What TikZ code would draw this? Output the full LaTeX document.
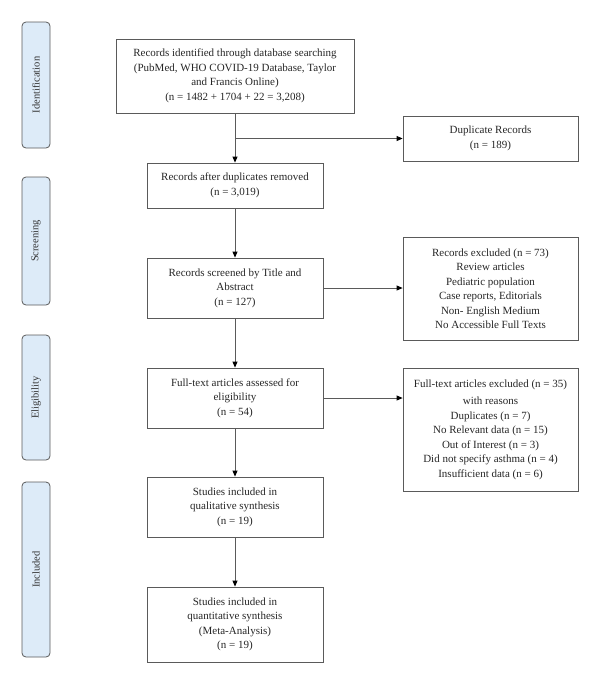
\documentclass[tikz,border=0pt]{standalone}
\usepackage{fontspec}
\setmainfont{Liberation Serif}
\usetikzlibrary{arrows.meta,positioning}
\definecolor{linegray}{HTML}{5A5A5A}
\definecolor{barblue}{HTML}{DDEBF8}
\tikzset{
  box/.style={draw=linegray, line width=0.8pt, align=center, inner sep=2pt,
    font=\fontsize{11}{14.5}\selectfont, text=black!85},
  bar/.style={draw=linegray, line width=0.8pt, fill=barblue, rounded corners=4pt,
    minimum width=28pt, rotate=90, font=\fontsize{10.5}{13}\selectfont, text=black!80},
  conn/.style={draw=linegray, line width=0.8pt, -{Triangle[length=6pt,width=5pt,fill=black,color=black]}},
}
\begin{document}
\begin{tikzpicture}[x=1pt,y=-1pt]
\useasboundingbox (0,0) rectangle (600,683);
% side bars
\node[bar, minimum height=28pt, minimum width=126pt] (idb) at (36,85) {Identification};
\node[bar, minimum height=28pt, minimum width=128pt] (scb) at (36,241) {Screening};
\node[bar, minimum height=28pt, minimum width=125pt] (elb) at (36,397.5) {Eligibility};
\node[bar, minimum height=28pt, minimum width=175pt] (inb) at (36,569.5) {Included};
% main boxes
\node[box, minimum width=238pt, minimum height=74pt] (b1) at (235,76)
  {Records identified through database searching\\(PubMed, WHO COVID-19 Database, Taylor\\and Francis Online)\\(n = 1482 + 1704 + 22 = 3,208)};
\node[box, minimum width=175pt, minimum height=45pt] (dup) at (490.5,138.5)
  {Duplicate Records\\(n = 189)};
\node[box, minimum width=176pt, minimum height=45pt] (b2) at (235,185.5)
  {Records after duplicates removed\\(n = 3,019)};
\node[box, minimum width=176pt, minimum height=60pt] (b3) at (235,288)
  {Records screened by Title and\\Abstract\\(n = 127)};
\node[box, minimum width=175pt, minimum height=103pt] (ex1) at (490.5,288.5)
  {Records excluded (n = 73)\\Review articles\\Pediatric population\\Case reports, Editorials\\Non- English Medium\\No Accessible Full Texts};
\node[box, minimum width=176pt, minimum height=60pt] (b4) at (235,398)
  {Full-text articles assessed for\\eligibility\\(n = 54)};
\node[box, minimum width=175pt, minimum height=123pt] (ex2) at (490.5,429.5)
  {Full-text articles excluded (n = 35)\\[3pt]with reasons\\Duplicates (n = 7)\\No Relevant data (n = 15)\\Out of Interest (n = 3)\\Did not specify asthma (n = 4)\\Insufficient data (n = 6)};
\node[box, minimum width=176pt, minimum height=60pt] (b5) at (235,507)
  {Studies included in\\qualitative synthesis\\(n = 19)};
\node[box, minimum width=176pt, minimum height=75pt] (b6) at (235,624.5)
  {Studies included in\\quantitative synthesis\\(Meta-Analysis)\\(n = 19)};
% connectors
\coordinate (split) at (b1.south |- dup.west);
\draw[conn] (b1.south) -- (b2.north);
\draw[conn] (split) -- (dup.west);
\draw[conn] (b2.south) -- (b3.north);
\draw[conn] (b3.east) -- (b3.east -| ex1.west);
\draw[conn] (b3.south) -- (b4.north);
\draw[conn] (b4.east) -- (b4.east -| ex2.west);
\draw[conn] (b4.south) -- (b5.north);
\draw[conn] (b5.south) -- (b6.north);
\end{tikzpicture}
\end{document}
